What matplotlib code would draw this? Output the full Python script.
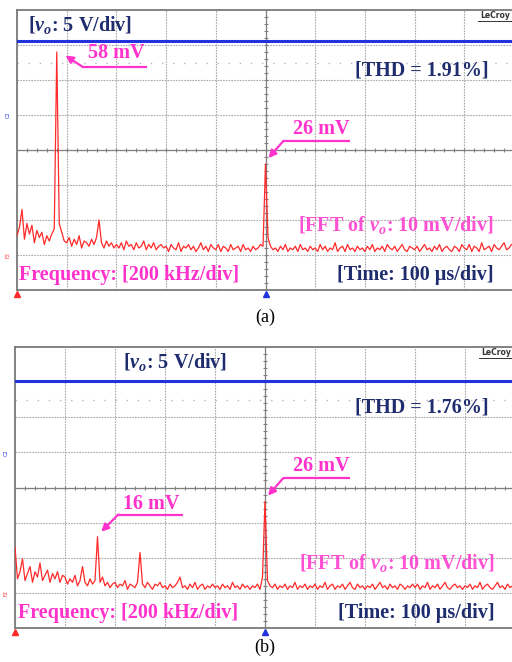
import matplotlib
matplotlib.use("Agg")
import matplotlib.pyplot as plt
import numpy as np

plt.rcParams['font.family'] = ['Liberation Serif', 'DejaVu Serif']
plt.rcParams['mathtext.fontset'] = 'custom'
plt.rcParams['mathtext.it'] = 'Liberation Serif:bold:italic'
plt.rcParams['mathtext.rm'] = 'Liberation Serif:bold'

# FFT bins in kHz (10 kHz resolution, 200 kHz/div)
freq_khz = np.arange(0, 2000, 10)

# FFT of vo, mV above floor - panel (a)
fft_a = [
    5.5, 8.0, 13.0, 4.5, 9.0, 6.0, 8.5, 3.5, 7.0, 5.0, 6.5, 3.0, 5.5, 4.0, 6.0, 7.5, 58.0, 9.0, 6.5, 4.0,
    3.5, 5.0, 2.5, 4.5, 3.0, 5.5, 2.0, 4.0, 3.5, 2.5, 4.5, 3.0, 5.0, 10.0, 3.5, 2.0, 4.0, 2.5, 3.5, 2.0,
    3.0, 2.0, 3.5, 1.5, 4.0, 2.5, 3.0, 1.5, 3.5, 2.0, 2.5, 4.0, 1.5, 3.0, 2.0, 3.5, 1.5, 2.5, 3.0, 2.0,
    2.5, 1.0, 3.0, 2.0, 1.5, 3.5, 1.0, 2.5, 2.0, 3.0, 1.5, 2.5, 1.0, 2.0, 3.5, 1.5, 2.5, 1.0, 3.0, 2.0,
    1.5, 3.0, 1.0, 2.5, 2.0, 1.0, 3.0, 1.5, 2.0, 2.5, 1.0, 3.0, 1.5, 2.0, 1.0, 2.5, 1.5, 2.0, 3.0, 2.5,
    26.0, 5.0, 2.5, 1.5, 2.0, 1.0, 2.5, 1.5, 3.0, 1.0, 2.0, 1.5, 2.5, 1.0, 3.0, 1.5, 2.0, 1.0, 2.5, 1.5,
    2.0, 1.0, 3.0, 1.5, 2.5, 1.0, 2.0, 1.5, 3.5, 1.0, 2.0, 2.5, 1.0, 3.0, 1.5, 2.0, 1.0, 2.5, 1.5, 2.0,
    1.0, 2.5, 1.5, 3.0, 1.0, 2.0, 1.5, 2.5, 1.0, 3.0, 2.0, 1.5, 2.5, 1.0, 2.0, 3.0, 1.5, 1.0, 2.5, 2.0,
    1.5, 2.5, 1.0, 2.0, 3.0, 1.5, 2.0, 1.0, 2.5, 1.5, 3.0, 1.0, 2.0, 2.5, 1.5, 1.0, 2.5, 2.0, 1.0, 3.0,
    2.0, 1.5, 3.0, 1.0, 2.5, 2.0, 1.0, 3.5, 1.5, 2.0, 2.5, 1.0, 3.0, 2.0, 1.5, 2.5, 3.5, 1.5, 2.0, 3.0,
]

# FFT of vo - panel (b)
fft_b = [
    13.0, 4.0, 6.0, 9.7, 3.5, 5.5, 7.5, 3.0, 6.0, 4.5, 8.5, 3.5, 5.0, 6.5, 3.0, 5.5, 4.0, 6.0, 3.0, 5.0,
    4.5, 2.5, 4.0, 3.0, 5.0, 2.0, 3.5, 7.5, 3.0, 2.0, 4.0, 2.5, 3.5, 16.0, 3.0, 4.5, 2.0, 3.0, 1.5, 2.5,
    3.0, 1.5, 2.5, 2.0, 3.5, 1.0, 2.5, 2.0, 1.5, 3.0, 11.5, 2.5, 1.5, 3.0, 2.0, 1.0, 2.5, 2.0, 3.0, 1.5,
    2.0, 1.0, 2.5, 1.5, 2.0, 3.0, 4.5, 1.5, 2.0, 1.0, 2.5, 1.5, 3.0, 1.0, 2.0, 2.5, 1.0, 2.0, 1.5, 2.5,
    1.5, 2.0, 1.0, 2.5, 1.5, 2.0, 1.0, 3.0, 1.5, 2.0, 1.0, 2.5, 1.5, 2.0, 1.0, 2.0, 1.5, 2.5, 1.0, 4.5,
    26.0, 3.5, 2.0, 1.5, 2.5, 1.0, 2.0, 1.5, 2.5, 1.0, 2.0, 1.5, 3.0, 1.0, 2.0, 1.5, 2.5, 1.0, 2.0, 1.5,
    2.5, 1.0, 2.0, 1.5, 3.0, 1.0, 2.0, 2.5, 1.0, 2.0, 1.5, 2.5, 1.0, 2.0, 3.0, 1.5, 1.0, 2.5, 1.5, 2.0,
    1.0, 2.0, 1.5, 2.5, 1.0, 2.0, 3.0, 1.5, 2.0, 1.0, 2.5, 1.5, 2.0, 1.0, 2.5, 2.0, 1.0, 2.0, 1.5, 2.5,
    1.5, 2.5, 1.0, 2.0, 1.5, 3.0, 1.0, 2.0, 1.5, 2.5, 1.0, 2.0, 3.0, 1.5, 1.0, 2.0, 2.5, 1.5, 2.0, 1.0,
    2.0, 1.5, 2.5, 1.0, 2.0, 1.5, 3.0, 1.0, 2.0, 2.5, 1.5, 1.0, 2.0, 3.0, 1.5, 2.0, 1.0, 2.5, 1.5, 2.0,
]

# output voltage trace (C2), 100 us/div
time_us = [0, 1000]
vo_a = 10.6
vo_b = 10.1

thd = ['1.91%', '1.76%']
captions = ['(a)', '(b)']

NAVY = '#1f2d6e'
MAG = '#ff33cc'
RED = '#ff2a2a'
BLUE = '#2233dd'
GRID = '#aaaaaa'
FS = 14.5

W, H = 512, 662
fig = plt.figure(figsize=(W / 100, H / 100), dpi=100)


def rect(left, top, right, bottom):
    return [left / W, 1 - bottom / H, (right - left) / W, (bottom - top) / H]


def label_arrow(ax, text, tx, ty, x0, x1, ly, tipx, tipy):
    ax.text(tx, ty, text, color=MAG, fontsize=FS, fontweight='bold',
            ha='left', va='center')
    ax.plot([x0, x1], [ly, ly], color=MAG, lw=1.6, solid_capstyle='butt')
    ax.annotate('', xy=(tipx, tipy), xytext=(x0, ly),
                arrowprops=dict(arrowstyle='-|>', color=MAG, lw=1.6,
                                mutation_scale=11, shrinkA=0, shrinkB=0))


def panel(r, fft, vo, vo_x, thd_txt, cap, cap_y):
    ax = fig.add_axes(r)
    ax.set_xlim(0, 2000)
    ax.set_ylim(-10, 70)
    ax.set_xticks([])
    ax.set_yticks([])
    for s in ax.spines.values():
        s.set_color('#7a7a7a')
        s.set_linewidth(1.3)

    # graticule
    for x in range(200, 2000, 200):
        ax.axvline(x, color=GRID, lw=0.8, ls=(0, (1.5, 1)), zorder=0)
    for y in range(0, 70, 10):
        ax.axhline(y, color=GRID, lw=0.8, ls=(0, (1.5, 1)), zorder=0)
    ax.axhline(55, color='#b5b5b5', lw=1.0, ls=(0, (1, 7)), zorder=0)
    ax.axvline(1000, color='#808080', lw=0.9, zorder=0)
    ax.axhline(30, color='#808080', lw=0.9, zorder=0)
    tx = np.arange(40, 2000, 40)
    ty = np.arange(-8, 70, 2)
    ax.plot(tx, np.full(len(tx), 30), ls='none', marker='|', ms=3.5, mew=0.8, color='#808080', zorder=0)
    ax.plot(np.full(len(ty), 1000), ty, ls='none', marker='_', ms=3.5, mew=0.8, color='#808080', zorder=0)

    # FFT trace
    ax.plot(freq_khz, fft, color=RED, lw=0.9, zorder=3)
    ax.plot([0], [-11.2], marker='^', ms=4, color=RED, clip_on=False, ls='none')
    ax.text(-25, 0, 'F2', color=RED, fontsize=3.5, ha='right', va='center',
            family='DejaVu Sans', rotation=90)

    # vo trace on its own scale
    ax2 = fig.add_axes(r)
    ax2.set_xlim(0, 1000)
    ax2.set_ylim(-25, 15)
    ax2.axis('off')
    ax2.plot(time_us, [vo, vo], color=BLUE, lw=2.2)
    ax2.plot([500], [-25.6], marker='^', ms=4, color=BLUE, clip_on=False, ls='none')
    ax2.text(-12, 0, 'C2', color=BLUE, fontsize=3.5, ha='right', va='center',
             family='DejaVu Sans', rotation=90)

    ax.text(vo_x, 65.8, r'[$v_o$: 5 V/div]', color=NAVY, fontsize=FS,
            fontweight='bold', ha='left', va='center')
    ax.text(1360, 52.8, '[THD = %s]' % thd_txt, color=NAVY, fontsize=FS,
            fontweight='bold', ha='left', va='center')
    ax.text(1920, 8.5, r'[FFT of $v_o$: 10 mV/div]', color=MAG, fontsize=FS,
            fontweight='bold', ha='right', va='center', alpha=0.85)
    ax.text(10, -5.7, 'Frequency: [200 kHz/div]', color=MAG, fontsize=FS,
            fontweight='bold', ha='left', va='center')
    ax.text(1920, -5.7, '[Time: 100 µs/div]', color=NAVY, fontsize=FS,
            fontweight='bold', ha='right', va='center')
    ax.text(1925, 68.3, 'LeCroy', color='#333333', fontsize=5.5, fontweight='bold',
            family='DejaVu Sans', ha='center', va='center')
    ax.plot([1855, 1995], [67.0, 67.0], color='#333333', lw=0.7, clip_on=False)

    label_arrow(ax, '26 mV', 1112, 36.0, 1072, 1340, 32.6, 1012, 27.7)
    ax.text(1000, cap_y, cap, color='black', fontsize=13, ha='center', va='center')
    return ax


ax_a = panel(rect(17, 10, 514, 290), fft_a, vo_a, 44, thd[0], captions[0], -17.8)
label_arrow(ax_a, '58 mV', 286, 57.7, 265, 523, 53.7, 195, 57.0)

ax_b = panel(rect(15, 347, 515, 628), fft_b, vo_b, 433, thd[1], captions[1], -15.6)
label_arrow(ax_b, '16 mV', 433, 25.4, 413, 673, 22.3, 345, 17.4)

fig.savefig('out.png', dpi=100)
